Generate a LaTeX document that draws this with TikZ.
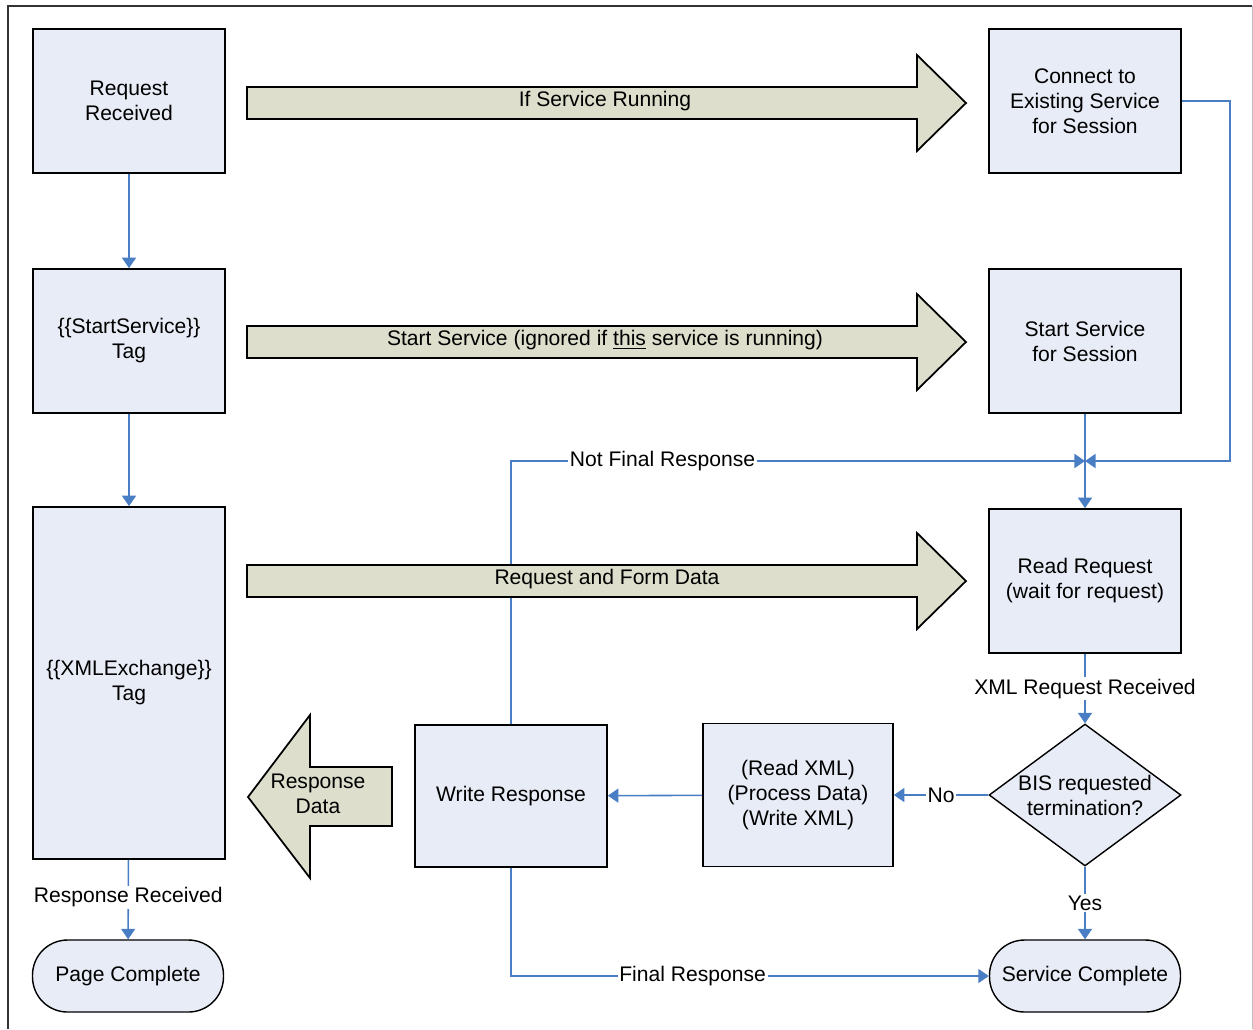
\documentclass[tikz,border=0pt]{standalone}
\usepackage{fontspec}
\setmainfont{Liberation Sans}
\usetikzlibrary{arrows.meta, shapes.geometric}

\definecolor{boxfill}{RGB}{232,236,246}
\definecolor{bigarrowfill}{RGB}{221,223,204}
\definecolor{flowblue}{RGB}{74,126,196}
\definecolor{framegray}{RGB}{190,190,190}

\begin{document}
\begin{tikzpicture}[
    x=0.02cm, y=-0.02cm,
    font=\fontsize{12}{14.2}\selectfont,
    stepbox/.style={
        rectangle,
        draw=black,
        line width=1pt,
        fill=boxfill,
        minimum width=3.84cm,
        align=center,
        inner sep=0pt},
    endbox/.style={
        rectangle,
        rounded corners=0.7cm,
        draw=black,
        line width=0.8pt,
        fill=boxfill,
        minimum width=3.82cm,
        minimum height=1.44cm},
    decision/.style={
        diamond,
        draw=black,
        line width=0.8pt,
        fill=boxfill,
        minimum width=3.84cm,
        minimum height=2.84cm,
        inner sep=0pt},
    bigarrow/.style={
        draw=black,
        line width=1pt,
        fill=bigarrowfill},
    flow/.style={
        draw=flowblue,
        line width=0.9pt,
        -{Triangle[length=6pt, width=8pt]}},
    flowlabel/.style={
        fill=white,
        inner sep=1pt},
    ]
    \useasboundingbox (0,0) rectangle (1253,1029);

    % frame
    \draw[line width=1pt, black!80] (1252,6) -- (8,6) -- (8,1029);
    \draw[framegray] (1252,6) -- (1252,1029);

    % page side
    \node[
        stepbox,
        minimum height=2.88cm]
        (request) at (129,101) {Request\\Received};
    \node[
        stepbox,
        minimum height=2.88cm]
        (starttag) at (129,341) {\{\{StartService\}\}\\Tag};
    \node[
        stepbox,
        minimum height=7.04cm]
        (xmltag) at (129,683) {\{\{XMLExchange\}\}\\Tag};
    \node[endbox]
        (pagedone) at (128,976) {Page Complete};

    % service side
    \node[
        stepbox,
        minimum height=2.88cm]
        (connect) at (1085,101) {Connect to\\Existing Service\\for Session};
    \node[
        stepbox,
        minimum height=2.88cm]
        (startsess) at (1085,341) {Start Service\\for Session};
    \node[
        stepbox,
        minimum height=2.88cm]
        (readreq) at (1085,581) {Read Request\\(wait for request)};
    \node[decision]
        (decide) at (1085,795) {};
    \node[align=center]
        (decidetext) at (decide) {BIS requested\\termination?};
    \node[
        stepbox,
        minimum width=3.8cm,
        minimum height=2.86cm]
        (readxml) at (798,795) {(Read XML)\\(Process Data)\\(Write XML)};
    \node[
        stepbox,
        minimum height=2.84cm]
        (writeresp) at (511,796) {Write Response};
    \node[endbox]
        (servdone) at (1085,976) {Service Complete};

    % connectors
    \coordinate (join) at (1085,461);
    \coordinate (rightturn) at (1230,461);

    \draw[flow] (request) -- (starttag);
    \draw[flow] (starttag) -- (xmltag);
    \draw[flow] (xmltag) -- node[flowlabel, pos=0.47] (resprecv) {Response Received} (pagedone);

    \draw[flow] (connect.east) -| (rightturn) -- (join);
    \draw[flow] (startsess) -- (readreq);
    \draw[flow] (writeresp.north) |- node[flowlabel, pos=0.632] (notfinal) {Not Final Response} (join);
    \draw[flow] (readreq) -- node[flowlabel] (xmlrecv) {XML Request Received} (decide);
    \draw[flow] (decide) -- node[flowlabel] (nolabel) {No} (readxml);
    \draw[flow] (readxml) -- (writeresp);
    \draw[flow] (decide) -- node[flowlabel] (yeslabel) {Yes} (servdone);
    \draw[flow] (writeresp.south) |- node[flowlabel, pos=0.69] (final) {Final Response} (servdone.west);

    % block arrows
    \foreach \yc in {103,342,581}
        \draw[bigarrow] (247,\yc-16) -- (917,\yc-16) -- (917,\yc-48) -- (966,\yc)
            -- (917,\yc+48) -- (917,\yc+16) -- (247,\yc+16) -- cycle;
    \node (running) at (605,101) {If Service Running};
    \node (startnote) at (605,340) {Start Service (ignored if \underline{this} service is running)};
    \node (formdata) at (607,579) {Request and Form Data};

    \draw[bigarrow] (392,767) -- (310,767) -- (310,715) -- (248,797)
        -- (310,878) -- (310,826) -- (392,826) -- cycle;
    \node[align=center] (respdata) at (318,794) {Response\\Data};
\end{tikzpicture}
\end{document}
